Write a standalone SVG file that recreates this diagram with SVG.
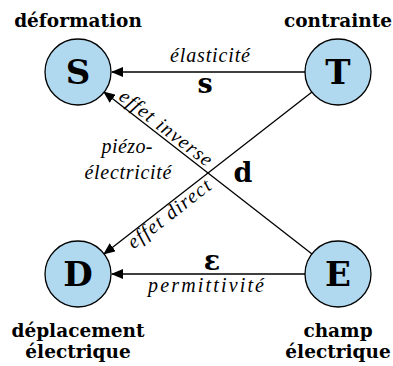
<svg xmlns="http://www.w3.org/2000/svg" width="393" height="366" viewBox="0 0 393 366">
<defs>
<marker id="arr" viewBox="0 0 12 10" refX="11" refY="5" markerWidth="12" markerHeight="10" markerUnits="userSpaceOnUse" orient="auto">
<path d="M0,0 L12,5 L0,10 Z" fill="#000"/>
</marker>
</defs>
<g id="connectors">
<g stroke="#000" stroke-width="1.3" fill="none" marker-end="url(#arr)">
<line x1="305" y1="72" x2="112" y2="72"/>
<line x1="305" y1="274" x2="112" y2="274"/>
<line x1="312" y1="92" x2="104" y2="254"/>
<line x1="312" y1="254" x2="104" y2="92"/>
</g>
<g font-family="Liberation Serif" font-style="italic" font-size="20" text-anchor="middle">
<text x="210" y="62" textLength="80" lengthAdjust="spacing">élasticité</text>
<text x="206" y="292" textLength="116" lengthAdjust="spacing">permittivité</text>
<text x="127" y="153" textLength="51" lengthAdjust="spacing">piézo-</text>
<text x="128" y="179" textLength="87" lengthAdjust="spacing">électricité</text>
<text transform="translate(162,133) rotate(37.7)" x="0" y="0" textLength="112" lengthAdjust="spacing">effet inverse</text>
<text transform="translate(173,219) rotate(-37.7)" x="0" y="0" textLength="100" lengthAdjust="spacing">effet direct</text>
</g>
<g font-family="DejaVu Serif" font-weight="bold" font-size="27" text-anchor="middle">
<text x="205" y="93">s</text>
<text x="212" y="270">ε</text>
<text x="243" y="182">d</text>
</g>
</g>
<g fill="#b0d8ef" stroke="#000" stroke-width="1.3">
<circle id="S-circle" cx="78" cy="72" r="33"/>
<circle id="T-circle" cx="338" cy="72" r="33"/>
<circle id="D-circle" cx="78" cy="274" r="33"/>
<circle id="E-circle" cx="338" cy="274" r="33"/>
</g>
<g font-family="DejaVu Serif" font-weight="bold" text-anchor="middle">
<g id="S"><text x="78" y="84" font-size="34">S</text><text x="78" y="27" font-size="18.5">déformation</text></g>
<g id="T"><text x="338" y="84" font-size="34">T</text><text x="338" y="27" font-size="18.5">contrainte</text></g>
<g id="D"><text x="78" y="286" font-size="34">D</text><text x="78" y="337" font-size="18.5">déplacement</text><text x="78" y="358" font-size="18.5">électrique</text></g>
<g id="E"><text x="338" y="286" font-size="34">E</text><text x="338" y="337" font-size="18.5">champ</text><text x="338" y="358" font-size="18.5">électrique</text></g>
</g>
</svg>
